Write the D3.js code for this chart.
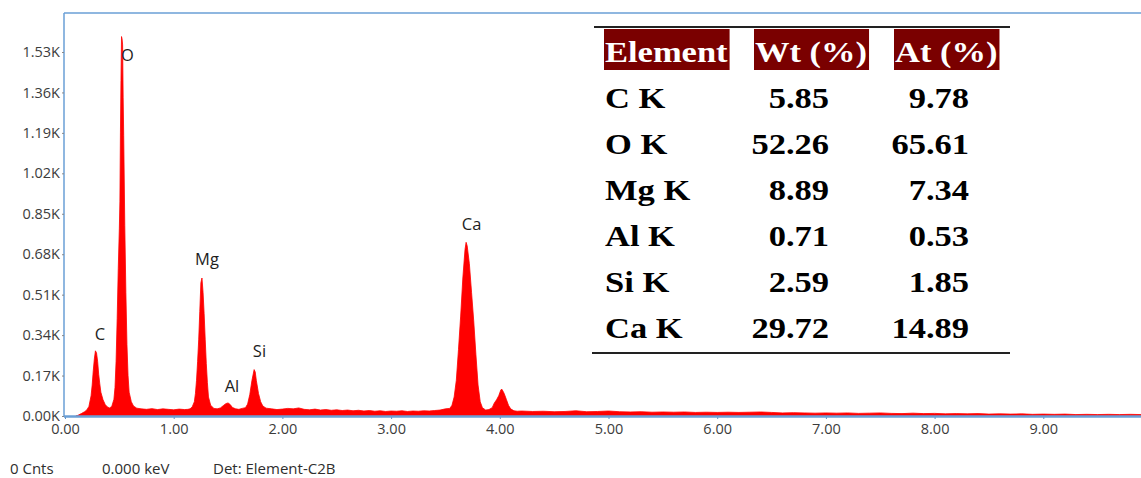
<!DOCTYPE html>
<html>
<head>
<meta charset="utf-8">
<script src="https://cdnjs.cloudflare.com/ajax/libs/d3/7.8.5/d3.min.js"></script>
<style>
  body { margin: 0; background: #fff; }
  svg { display: block; }
</style>
</head>
<body>
<div id="chart"></div>
<script>
// EDS spectrum values (keV, counts)
var lowSpectrum = [
    [0.10, 0], [0.12, 3], [0.15, 10], [0.18, 18], [0.20, 25], [0.22, 40], [0.24, 85],
    [0.25, 130], [0.26, 190], [0.27, 240], [0.28, 274], [0.29, 265], [0.30, 230],
    [0.31, 175], [0.32, 135], [0.33, 100], [0.35, 68], [0.37, 48], [0.39, 38], [0.41, 34],
    [0.43, 40], [0.45, 70], [0.46, 120], [0.47, 230], [0.48, 410], [0.49, 620], [0.50, 790],
    [0.505, 900], [0.51, 1190], [0.515, 1410], [0.52, 1595], [0.525, 1585], [0.53, 1560],
    [0.535, 1340], [0.54, 1180], [0.55, 800], [0.56, 520], [0.57, 300], [0.58, 170],
    [0.59, 100], [0.61, 60], [0.63, 42], [0.66, 33], [0.70, 30], [0.75, 28], [0.80, 31],
    [0.85, 27], [0.90, 30], [0.95, 28], [1.00, 26], [1.05, 29], [1.10, 27], [1.13, 28]
]
var midSpectrum = [
    [1.15, 30], [1.17, 38], [1.19, 60], [1.20, 95], [1.21, 150], [1.22, 230], [1.23, 320],
    [1.24, 440], [1.25, 560], [1.26, 580], [1.27, 520], [1.28, 430], [1.29, 320], [1.30, 220],
    [1.31, 140], [1.32, 80], [1.34, 45], [1.37, 32], [1.40, 30], [1.43, 34], [1.46, 45],
    [1.48, 52], [1.50, 55], [1.52, 48], [1.54, 36], [1.57, 30], [1.60, 28], [1.63, 32],
    [1.66, 35], [1.68, 50], [1.70, 90], [1.72, 150], [1.74, 195], [1.75, 185], [1.76, 150],
    [1.78, 95], [1.80, 60], [1.82, 42], [1.85, 33], [1.90, 30], [1.95, 27], [2.00, 29],
    [2.05, 32], [2.10, 30], [2.15, 34], [2.20, 28], [2.25, 26], [2.30, 29], [2.35, 25],
    [2.40, 27], [2.45, 24], [2.50, 26], [2.55, 23], [2.60, 25], [2.65, 22], [2.70, 24],
    [2.75, 21], [2.80, 23], [2.85, 20], [2.90, 22], [2.95, 19], [3.00, 21], [3.05, 20],
    [3.10, 22], [3.15, 19], [3.20, 21], [3.25, 20], [3.30, 22], [3.35, 21], [3.40, 23],
    [3.45, 25], [3.50, 30]
]
var caSpectrum = [
    [3.54, 32], [3.56, 45], [3.58, 80], [3.60, 150], [3.62, 280], [3.64, 420], [3.66, 580],
    [3.68, 700], [3.69, 730], [3.70, 715], [3.72, 640], [3.74, 520], [3.76, 400], [3.78, 260],
    [3.80, 130], [3.82, 60], [3.84, 35], [3.87, 25], [3.90, 27], [3.93, 35], [3.95, 55],
    [3.97, 68], [3.99, 85], [4.01, 110], [4.02, 112], [4.04, 95], [4.06, 70], [4.08, 45],
    [4.10, 30], [4.13, 22], [4.16, 20]
]
var highSpectrum = [
    [4.2, 21], [4.3, 19], [4.4, 20], [4.5, 18], [4.6, 19], [4.7, 22], [4.8, 18], [4.9, 19],
    [5.0, 21], [5.1, 18], [5.2, 17], [5.3, 18], [5.4, 16], [5.5, 17], [5.6, 16], [5.7, 17],
    [5.8, 15], [5.9, 16], [6.0, 15], [6.1, 16], [6.2, 15], [6.3, 16], [6.4, 17], [6.5, 15],
    [6.6, 13], [6.7, 14], [6.8, 13], [6.9, 12], [7.0, 13], [7.1, 12], [7.2, 13], [7.3, 11],
    [7.4, 12], [7.5, 13], [7.6, 11], [7.7, 10], [7.8, 12], [7.9, 10], [8.0, 11], [8.1, 9],
    [8.2, 10], [8.3, 9], [8.4, 10], [8.5, 8], [8.6, 9], [8.7, 8], [8.8, 9], [8.9, 7],
    [9.0, 8], [9.1, 7], [9.2, 8], [9.3, 6], [9.4, 7], [9.5, 6], [9.6, 7], [9.7, 6],
    [9.8, 7], [9.9, 6], [10.0, 6]
]

// peak labels (name, keV, counts where the label sits)
var peakNames = ["C", "O", "Mg", "Al", "Si", "Ca"]
var peakKeV = [0.322, 0.575, 1.306, 1.536, 1.789, 3.74]
var peakCounts = [319, 1492, 635, 101, 248, 782]

// tick values
var yTicks = [0, 170, 340, 510, 680, 850, 1020, 1190, 1360, 1530]
var xTicks = [0, 1, 2, 3, 4, 5, 6, 7, 8, 9]

// quantification table
var tableHeaders = ["Element", "Wt (%)", "At (%)"]
var elements = ["C K", "O K", "Mg K", "Al K", "Si K", "Ca K"]
var wtPercent = ["5.85", "52.26", "8.89", "0.71", "2.59", "29.72"]
var atPercent = ["9.78", "65.61", "7.34", "0.53", "1.85", "14.89"]

var footer = ["0 Cnts", "0.000 keV", "Det: Element-C2B"]

;(function() {
    var width = 1141,
        height = 478;

    var svg = d3.select("#chart")
        .append("svg")
        .attr("width", width)
        .attr("height", height)

    var x = d3.scaleLinear().domain([0, 10]).range([65, 1152])
    var y = d3.scaleLinear().domain([0, 1530]).range([416, 52])
    var frameTop = 13,
        frameLeft = 64,
        axisColor = "#6a9fd6",
        font = "'Open Sans', sans-serif"

    var spectrum = lowSpectrum.concat(midSpectrum, caSpectrum, highSpectrum)

    // the red filled spectrum
    var area = d3.area()
        .x(function(d) { return x(d[0]) })
        .y0(y(0))
        .y1(function(d) { return y(d[1]) })

    svg.append("path")
        .datum(spectrum)
        .attr("d", area)
        .attr("fill", "#ff0000")
        .attr("stroke", "#f00")
        .attr("stroke-width", 0.8)

    // frame: left + top
    svg.append("line")
        .attr("x1", frameLeft).attr("x2", frameLeft)
        .attr("y1", frameTop).attr("y2", y(0))
        .attr("stroke", axisColor).attr("stroke-width", 1.5)
    svg.append("line")
        .attr("x1", frameLeft).attr("x2", width)
        .attr("y1", frameTop).attr("y2", frameTop)
        .attr("stroke", axisColor).attr("stroke-width", 1.5)

    // y axis
    var yAxis = svg.append("g")
        .attr("transform", "translate(" + frameLeft + ",0)")
        .call(d3.axisLeft(y).tickValues(yTicks).tickSize(2).tickPadding(2)
            .tickFormat(function(d) { return (d / 1000).toFixed(2) + "K" }))
    yAxis.select(".domain").remove()
    yAxis.selectAll("line").attr("stroke", "#888")
    yAxis.selectAll("text")
        .attr("fill", "#3c3c3c")
        .style("font-family", font)
        .style("font-size", "14.5px")

    // x axis
    var xAxis = svg.append("g")
        .attr("transform", "translate(0," + y(0) + ")")
        .call(d3.axisBottom(x).tickValues(xTicks).tickSize(3).tickPadding(5)
            .tickFormat(d3.format(".2f")))
    xAxis.select(".domain").remove()
    xAxis.selectAll("line").attr("stroke", "#5b8fc4")
    xAxis.selectAll("text")
        .attr("fill", "#3c3c3c")
        .style("font-family", font)
        .style("font-size", "14.5px")

    svg.append("line")
        .attr("x1", frameLeft).attr("x2", width)
        .attr("y1", y(0) + 0.5).attr("y2", y(0) + 0.5)
        .attr("stroke", axisColor).attr("stroke-width", 2.5)

    // peak labels
    svg.selectAll(".peak")
        .data(peakNames)
        .enter()
        .append("text")
            .attr("class", "peak")
            .attr("x", function(d, i) { return x(peakKeV[i]) })
            .attr("y", function(d, i) { return y(peakCounts[i]) })
            .attr("text-anchor", "middle")
            .attr("fill", "#1e1e1e")
            .style("font-family", font)
            .style("font-size", "16.5px")
            .text(function(d) { return d })

    // footer line
    var footerX = [10, 102, 213]
    svg.selectAll(".footer")
        .data(footer)
        .enter()
        .append("text")
            .attr("class", "footer")
            .attr("x", function(d, i) { return footerX[i] })
            .attr("y", 474)
            .attr("fill", "#2e2e2e")
            .style("font-family", font)
            .style("font-size", "15px")
            .text(function(d) { return d })

    // table (Times-ish bold, a bit stretched like the picture)
    var table = svg.append("g")
    var serif = "'Liberation Serif', 'Times New Roman', serif",
        stretch = 1.15,
        rowTop = 108,
        rowStep = 46,
        headerX = [605, 755, 895]

    table.append("line")
        .attr("x1", 594).attr("x2", 1010)
        .attr("y1", 27).attr("y2", 27)
        .attr("stroke", "#222").attr("stroke-width", 2)
    table.append("line")
        .attr("x1", 592).attr("x2", 1010)
        .attr("y1", 353).attr("y2", 353)
        .attr("stroke", "#222").attr("stroke-width", 2)

    var heads = table.selectAll(".head")
        .data(tableHeaders)
        .enter()
        .append("g")
            .attr("class", "head")

    heads.append("rect")
        .attr("y", 29)
        .attr("height", 41)
        .attr("fill", "#7a0000")

    heads.append("text")
        .attr("transform", function(d, i) { return "translate(" + headerX[i] + ",62) scale(" + stretch + ",1)" })
        .attr("fill", "#fff")
        .style("font-family", serif)
        .style("font-weight", "bold")
        .style("font-size", "30px")
        .text(function(d) { return d })

    // size the red boxes to the header text
    heads.each(function(d, i) {
        var g = d3.select(this)
        var len = g.select("text").node().getComputedTextLength() * stretch
        g.select("rect")
            .attr("x", headerX[i] - 1)
            .attr("width", len + 3)
    })

    var cols = [
        { values: elements, x: 605, anchor: "start" },
        { values: wtPercent, x: 829, anchor: "end" },
        { values: atPercent, x: 969, anchor: "end" }
    ]

    cols.forEach(function(col) {
        table.selectAll(null)
            .data(col.values)
            .enter()
            .append("text")
                .attr("transform", function(d, i) {
                    return "translate(" + col.x + "," + (rowTop + i * rowStep) + ") scale(" + stretch + ",1)"
                })
                .attr("text-anchor", col.anchor)
                .attr("fill", "#000")
                .style("font-family", serif)
                .style("font-weight", "bold")
                .style("font-size", "30px")
                .text(function(d) { return d })
    })
})();
</script>
</body>
</html>
